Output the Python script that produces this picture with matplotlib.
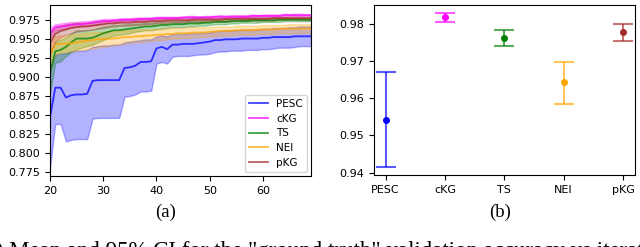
import numpy as np
import matplotlib
matplotlib.use("Agg")
import matplotlib.pyplot as plt

# iterations
iters = list(range(20, 70))

# (a) mean and 95% CI per method
pesc_mean = [0.846, 0.886, 0.886, 0.873, 0.876, 0.877, 0.877, 0.878, 0.895, 0.896,
             0.896, 0.896, 0.896, 0.896, 0.912, 0.913, 0.915, 0.920, 0.920, 0.921,
             0.938, 0.940, 0.937, 0.943, 0.943, 0.944, 0.944, 0.944, 0.945, 0.946,
             0.947, 0.949, 0.949, 0.950, 0.950, 0.950, 0.951, 0.951, 0.951, 0.951,
             0.952, 0.952, 0.953, 0.953, 0.953, 0.953, 0.954, 0.954, 0.954, 0.954]
pesc_lo = [0.779, 0.838, 0.838, 0.815, 0.817, 0.818, 0.818, 0.818, 0.845, 0.846,
           0.846, 0.846, 0.846, 0.846, 0.874, 0.875, 0.877, 0.881, 0.881, 0.882,
           0.918, 0.920, 0.918, 0.927, 0.928, 0.928, 0.928, 0.929, 0.930, 0.930,
           0.931, 0.933, 0.934, 0.934, 0.935, 0.935, 0.935, 0.936, 0.936, 0.936,
           0.937, 0.937, 0.938, 0.939, 0.939, 0.939, 0.940, 0.941, 0.941, 0.941]
pesc_hi = [0.910, 0.930, 0.931, 0.932, 0.934, 0.935, 0.935, 0.936, 0.940, 0.941,
           0.942, 0.942, 0.943, 0.943, 0.946, 0.947, 0.948, 0.949, 0.950, 0.950,
           0.954, 0.955, 0.954, 0.957, 0.957, 0.957, 0.958, 0.958, 0.958, 0.959,
           0.959, 0.961, 0.961, 0.962, 0.962, 0.962, 0.963, 0.963, 0.963, 0.963,
           0.964, 0.964, 0.965, 0.965, 0.965, 0.966, 0.966, 0.967, 0.967, 0.967]

ckg_mean = [0.958, 0.966, 0.967, 0.968, 0.969, 0.970, 0.970, 0.971, 0.972, 0.973,
            0.974, 0.974, 0.975, 0.975, 0.976, 0.976, 0.976, 0.977, 0.977, 0.977,
            0.978, 0.978, 0.978, 0.978, 0.978, 0.979, 0.979, 0.979, 0.979, 0.979,
            0.979, 0.980, 0.980, 0.980, 0.980, 0.980, 0.980, 0.980, 0.981, 0.981,
            0.981, 0.981, 0.981, 0.981, 0.982, 0.982, 0.982, 0.982, 0.982, 0.982]
ckg_lo = [0.952, 0.961, 0.963, 0.964, 0.966, 0.967, 0.967, 0.968, 0.969, 0.970,
          0.971, 0.972, 0.973, 0.973, 0.974, 0.974, 0.974, 0.975, 0.975, 0.975,
          0.976, 0.976, 0.976, 0.977, 0.977, 0.977, 0.977, 0.978, 0.978, 0.978,
          0.978, 0.978, 0.978, 0.979, 0.979, 0.979, 0.979, 0.979, 0.979, 0.980,
          0.980, 0.980, 0.980, 0.980, 0.980, 0.980, 0.981, 0.980, 0.981, 0.9805]
ckg_hi = [0.965, 0.970, 0.971, 0.972, 0.973, 0.973, 0.974, 0.974, 0.975, 0.976,
          0.977, 0.977, 0.977, 0.978, 0.978, 0.978, 0.979, 0.979, 0.979, 0.979,
          0.980, 0.980, 0.980, 0.980, 0.980, 0.980, 0.981, 0.981, 0.980, 0.981,
          0.981, 0.981, 0.982, 0.981, 0.982, 0.982, 0.982, 0.982, 0.983, 0.982,
          0.983, 0.983, 0.983, 0.983, 0.984, 0.983, 0.984, 0.984, 0.983, 0.983]

ts_mean = [0.905, 0.934, 0.936, 0.940, 0.946, 0.951, 0.951, 0.951, 0.952, 0.955,
           0.958, 0.960, 0.962, 0.962, 0.963, 0.964, 0.965, 0.966, 0.967, 0.967,
           0.968, 0.969, 0.969, 0.970, 0.970, 0.970, 0.971, 0.971, 0.971, 0.972,
           0.972, 0.973, 0.973, 0.973, 0.974, 0.974, 0.974, 0.974, 0.975, 0.975,
           0.975, 0.975, 0.975, 0.976, 0.976, 0.976, 0.976, 0.976, 0.976, 0.976]
ts_lo = [0.878, 0.919, 0.921, 0.928, 0.933, 0.937, 0.939, 0.941, 0.943, 0.946,
         0.949, 0.952, 0.955, 0.956, 0.957, 0.958, 0.960, 0.961, 0.962, 0.962,
         0.963, 0.964, 0.965, 0.966, 0.966, 0.966, 0.967, 0.967, 0.968, 0.968,
         0.969, 0.970, 0.970, 0.970, 0.971, 0.971, 0.972, 0.972, 0.972, 0.972,
         0.973, 0.973, 0.973, 0.973, 0.974, 0.974, 0.974, 0.974, 0.974, 0.9741]
ts_hi = [0.932, 0.946, 0.950, 0.953, 0.958, 0.962, 0.962, 0.962, 0.963, 0.965,
         0.967, 0.968, 0.969, 0.969, 0.970, 0.970, 0.971, 0.971, 0.972, 0.972,
         0.973, 0.973, 0.974, 0.974, 0.974, 0.974, 0.975, 0.975, 0.975, 0.976,
         0.976, 0.976, 0.976, 0.977, 0.977, 0.977, 0.977, 0.977, 0.978, 0.978,
         0.978, 0.978, 0.978, 0.978, 0.978, 0.978, 0.978, 0.978, 0.978, 0.9783]

nei_mean = [0.930, 0.943, 0.944, 0.944, 0.945, 0.946, 0.947, 0.948, 0.949, 0.950,
            0.950, 0.951, 0.951, 0.952, 0.953, 0.953, 0.954, 0.954, 0.955, 0.955,
            0.956, 0.956, 0.957, 0.957, 0.958, 0.958, 0.958, 0.959, 0.959, 0.959,
            0.960, 0.960, 0.961, 0.961, 0.961, 0.962, 0.962, 0.962, 0.962, 0.963,
            0.963, 0.963, 0.963, 0.964, 0.964, 0.964, 0.964, 0.964, 0.9644, 0.9644]
nei_lo = [0.915, 0.930, 0.932, 0.933, 0.934, 0.935, 0.936, 0.937, 0.938, 0.939,
          0.940, 0.941, 0.942, 0.943, 0.944, 0.945, 0.946, 0.946, 0.947, 0.948,
          0.949, 0.949, 0.950, 0.951, 0.951, 0.952, 0.952, 0.953, 0.953, 0.953,
          0.954, 0.954, 0.955, 0.955, 0.955, 0.956, 0.956, 0.956, 0.956, 0.957,
          0.957, 0.957, 0.957, 0.958, 0.958, 0.958, 0.958, 0.958, 0.9585, 0.9585]
nei_hi = [0.945, 0.954, 0.955, 0.955, 0.956, 0.957, 0.958, 0.959, 0.959, 0.960,
          0.960, 0.961, 0.961, 0.962, 0.962, 0.962, 0.963, 0.963, 0.963, 0.963,
          0.964, 0.964, 0.965, 0.965, 0.965, 0.965, 0.966, 0.966, 0.966, 0.966,
          0.966, 0.967, 0.967, 0.967, 0.967, 0.968, 0.968, 0.968, 0.968, 0.968,
          0.969, 0.969, 0.969, 0.969, 0.969, 0.970, 0.970, 0.970, 0.970, 0.970]

pkg_mean = [0.945, 0.957, 0.961, 0.963, 0.965, 0.966, 0.967, 0.967, 0.968, 0.969,
            0.970, 0.971, 0.971, 0.972, 0.972, 0.972, 0.973, 0.973, 0.973, 0.974,
            0.974, 0.974, 0.975, 0.975, 0.975, 0.975, 0.975, 0.976, 0.976, 0.976,
            0.976, 0.976, 0.976, 0.977, 0.977, 0.977, 0.977, 0.977, 0.977, 0.977,
            0.977, 0.977, 0.978, 0.978, 0.978, 0.978, 0.978, 0.978, 0.978, 0.978]
pkg_lo = [0.930, 0.947, 0.953, 0.956, 0.958, 0.960, 0.961, 0.962, 0.963, 0.964,
          0.965, 0.966, 0.967, 0.968, 0.968, 0.968, 0.969, 0.969, 0.970, 0.970,
          0.971, 0.971, 0.972, 0.972, 0.972, 0.972, 0.973, 0.973, 0.973, 0.973,
          0.974, 0.974, 0.974, 0.974, 0.974, 0.975, 0.975, 0.975, 0.975, 0.975,
          0.975, 0.975, 0.975, 0.976, 0.976, 0.976, 0.976, 0.976, 0.9755, 0.9756]
pkg_hi = [0.958, 0.966, 0.968, 0.970, 0.971, 0.972, 0.972, 0.972, 0.973, 0.974,
          0.975, 0.975, 0.975, 0.976, 0.976, 0.976, 0.977, 0.977, 0.977, 0.977,
          0.977, 0.978, 0.978, 0.978, 0.978, 0.978, 0.978, 0.979, 0.979, 0.979,
          0.979, 0.979, 0.979, 0.979, 0.979, 0.979, 0.980, 0.980, 0.980, 0.980,
          0.980, 0.980, 0.980, 0.980, 0.980, 0.980, 0.980, 0.980, 0.980, 0.980]

# (b) final accuracy with CI
methods = ["PESC", "cKG", "TS", "NEI", "pKG"]
final_mean = [0.9541, 0.9819, 0.9762, 0.9644, 0.9778]
final_lo = [0.9414, 0.9806, 0.9741, 0.9586, 0.9756]
final_hi = [0.9670, 0.9831, 0.9783, 0.9699, 0.9800]

colors = ["blue", "magenta", "green", "orange", "brown"]

fig = plt.figure(figsize=(6.4, 2.47), dpi=100)
ax1 = fig.add_axes([0.078, 0.287, 0.408, 0.693])
ax2 = fig.add_axes([0.584, 0.291, 0.408, 0.689])

series = [(pesc_mean, pesc_lo, pesc_hi), (ckg_mean, ckg_lo, ckg_hi),
          (ts_mean, ts_lo, ts_hi), (nei_mean, nei_lo, nei_hi),
          (pkg_mean, pkg_lo, pkg_hi)]
for name, c, (m, lo, hi) in zip(methods, colors, series):
    ax1.plot(iters, m, color=c, alpha=0.75, lw=1.3, label=name)
    ax1.fill_between(iters, lo, hi, color=c, alpha=0.3)

ax1.set_xlim(20, 69)
ax1.set_ylim(0.769, 0.9955)
ax1.set_xticks([20, 30, 40, 50, 60])
ax1.set_yticks([0.775, 0.8, 0.825, 0.85, 0.875, 0.9, 0.925, 0.95, 0.975])
ax1.tick_params(labelsize=8)
ax1.legend(loc="lower right", fontsize=7.5, handlelength=1.8,
           borderaxespad=0.4, labelspacing=0.45)

for i, (c, m, lo, hi) in enumerate(zip(colors, final_mean, final_lo, final_hi)):
    ax2.errorbar(i, m, yerr=[[m - lo], [hi - m]], fmt="none", ecolor=c,
                 alpha=0.65, capsize=7, elinewidth=1.5, capthick=1.5)
    ax2.plot(i, m, "o", color=c, ms=4)

ax2.set_xticks(range(len(methods)))
ax2.set_xticklabels(methods)
ax2.set_yticks([0.94, 0.95, 0.96, 0.97, 0.98])
ax2.tick_params(labelsize=8)

fig.text(166 / 640, 1 - 212 / 247, "(a)", ha="center", va="center",
         family="Liberation Serif", fontsize=13.5)
fig.text(500 / 640, 1 - 212 / 247, "(b)", ha="center", va="center",
         family="Liberation Serif", fontsize=13.5)
# caption line below, cut by the bottom edge as in the source crop
fig.text(-22 / 640, 1 - 241 / 247,
         '(a) Mean and 95% CI for the "ground truth" validation accuracy vs iteration',
         ha="left", va="top", family="Liberation Serif", fontsize=16.5)

fig.savefig("out.png", dpi=100)
